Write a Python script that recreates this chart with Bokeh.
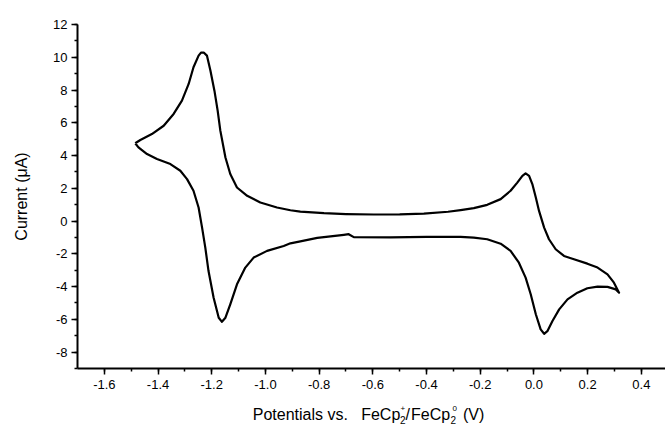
from bokeh.plotting import figure
from bokeh.models import Label, SingleIntervalTicker, NumeralTickFormatter, Range1d
from bokeh.layouts import column
from bokeh.embed import file_html
from bokeh.resources import INLINE

# ---- data ----
upper_potential = [-1.485, -1.466, -1.423, -1.379, -1.342, -1.311, -1.286, -1.268, -1.249, -1.240,
                   -1.230, -1.218, -1.205, -1.190, -1.178, -1.168, -1.149, -1.131, -1.106, -1.068,
                   -1.019, -0.957, -0.907, -0.870, -0.782, -0.700, -0.596, -0.500, -0.410, -0.320,
                   -0.273, -0.224, -0.174, -0.124, -0.087, -0.062, -0.043, -0.031, -0.018, -0.006,
                   0.007, 0.019, 0.038, 0.056, 0.081, 0.112, 0.149, 0.199, 0.237, 0.274, 0.298, 0.317]
upper_current = [4.75, 4.95, 5.31, 5.82, 6.54, 7.35, 8.37, 9.39, 10.10, 10.28,
                 10.29, 10.10, 9.19, 7.96, 6.74, 5.52, 3.88, 2.87, 2.05, 1.54,
                 1.13, 0.83, 0.66, 0.58, 0.48, 0.43, 0.40, 0.41, 0.46, 0.57,
                 0.67, 0.79, 0.99, 1.34, 1.85, 2.35, 2.76, 2.91, 2.76, 2.26,
                 1.44, 0.62, -0.40, -1.11, -1.72, -2.13, -2.33, -2.60, -2.84, -3.25, -3.76, -4.37]

lower_potential = [0.305, 0.274, 0.237, 0.199, 0.162, 0.125, 0.094, 0.069, 0.050, 0.038,
                   0.025, 0.007, -0.012, -0.031, -0.056, -0.087, -0.124, -0.174, -0.224, -0.273,
                   -0.400, -0.534, -0.671, -0.690, -0.708, -0.807, -0.870, -0.907, -0.932, -0.994,
                   -1.044, -1.075, -1.106, -1.131, -1.149, -1.162, -1.174, -1.193, -1.212, -1.224,
                   -1.236, -1.249, -1.268, -1.292, -1.317, -1.354, -1.404, -1.441, -1.473, -1.485]
lower_current = [-4.17, -4.02, -4.00, -4.10, -4.37, -4.78, -5.39, -6.10, -6.72, -6.88,
                 -6.61, -5.69, -4.47, -3.45, -2.54, -1.82, -1.38, -1.11, -1.01, -0.97,
                 -0.97, -0.99, -0.98, -0.80, -0.84, -1.03, -1.24, -1.36, -1.52, -1.82,
                 -2.23, -2.84, -3.86, -5.08, -5.90, -6.15, -5.90, -4.68, -3.05, -1.62,
                 -0.40, 0.83, 1.85, 2.56, 3.07, 3.48, 3.79, 4.09, 4.50, 4.75]

x_limits = (-1.7, 0.49)
y_limits = (-9, 12)
y_title = "Current (μA)"

potential = upper_potential + lower_potential
current = upper_current + lower_current

FONT = "Liberation Sans"
W = 665
MAIN_H = 400
TITLE_H = 29
LEFT = 77

p = figure(width=W, height=MAIN_H, x_range=Range1d(*x_limits), y_range=Range1d(*y_limits),
           output_backend="svg", toolbar_location=None,
           min_border_left=LEFT, min_border_right=0, min_border_top=24, min_border_bottom=32)
p.xgrid.visible = False
p.ygrid.visible = False
p.outline_line_color = None
p.background_fill_color = "white"
p.border_fill_color = "white"

p.xaxis.ticker = SingleIntervalTicker(interval=0.2, num_minor_ticks=2)
p.yaxis.ticker = SingleIntervalTicker(interval=2, num_minor_ticks=2)
p.xaxis.formatter = NumeralTickFormatter(format="0.0")
p.yaxis.formatter = NumeralTickFormatter(format="0")

for ax in (p.xaxis, p.yaxis):
    ax.axis_line_width = 2
    ax.axis_line_color = "black"
    ax.major_tick_line_width = 1.5
    ax.minor_tick_line_width = 1.5
    ax.major_tick_line_color = "black"
    ax.minor_tick_line_color = "black"
    ax.major_tick_in = 0
    ax.major_tick_out = 6
    ax.minor_tick_in = 0
    ax.minor_tick_out = 3
    ax.major_label_text_font = FONT
    ax.major_label_text_font_size = "13px"
    ax.major_label_text_color = "black"

p.xaxis.major_label_standoff = 5
p.yaxis.major_label_standoff = 4
p.yaxis.axis_label = y_title
p.yaxis.axis_label_text_font = FONT
p.yaxis.axis_label_text_font_size = "16px"
p.yaxis.axis_label_text_font_style = "normal"
p.yaxis.axis_label_text_color = "black"
p.yaxis.axis_label_standoff = 20

p.line(potential, current, line_width=2.2, color="black", line_join="round")

# ---- x-axis title strip below the chart; its frame is aligned with the chart frame,
#      so its x range is expressed in page pixels from LEFT to W ----
t = figure(width=W, height=TITLE_H, x_range=Range1d(LEFT, W), y_range=Range1d(0, TITLE_H),
           x_axis_type=None, y_axis_type=None,
           output_backend="svg", toolbar_location=None,
           min_border_left=LEFT, min_border_right=0, min_border_top=0, min_border_bottom=0)
t.xgrid.visible = False
t.ygrid.visible = False
t.outline_line_color = None
t.background_fill_color = "white"
t.border_fill_color = "white"

# (text, left x in page px, baseline y in page px, size)
pieces = [
    ("Potentials vs.", 252.3, 413.5, "16px"),
    ("FeCp", 360.7, 413.5, "16px"),
    ("2", 399.5, 419.0, "10px"),
    ("+", 400.0, 407.7, "8px"),
    ("/", 405.0, 413.5, "16px"),
    ("FeCp", 410.5, 413.5, "16px"),
    ("2", 450.0, 419.0, "10px"),
    ("0", 452.0, 407.7, "8px"),
    ("(V)", 462.5, 413.5, "16px"),
]
total_h = MAIN_H + TITLE_H
for txt, sx, base, size in pieces:
    t.add_layout(Label(x=sx, y=total_h - base, text=txt, text_font=FONT, text_font_size=size,
                       text_color="black", text_align="left", text_baseline="alphabetic"))

layout = column(p, t, spacing=0)
open("out.html", "w").write(file_html(layout, INLINE))
